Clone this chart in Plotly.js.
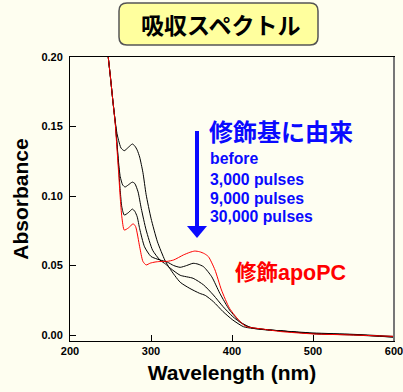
<!DOCTYPE html>
<html>
<head>
<meta charset="utf-8">
<script src="https://cdn.plot.ly/plotly-3.0.1.min.js"></script>
<style>html,body{margin:0;padding:0;background:#FEFEF0;}#chart{width:403px;height:392px;}</style>
</head>
<body>
<div id="chart"></div>
<script>
// ---- data ----
const chartTitle = "吸収スペクトル";
const xTitle = "Wavelength (nm)";
const yTitle = "Absorbance";
const xTicks = [200, 300, 400, 500, 600];
const yTicks = [0.00, 0.05, 0.10, 0.15, 0.20];
const legendHeader = "修飾基に由来";
const legendLabels = ["before", "3,000 pulses", "9,000 pulses", "30,000 pulses"];
const sampleLabel = "修飾apoPC";

// before (red)
const wlBefore = [240,245,250,253,256,258,260,262,264,267,272,278,281,286,290,294,299,305,311,320,328,340,348,354,360,366,371,379,387,397,410,418,438,460,500,550,600];
const absBefore = [0.24,0.212,0.185,0.168,0.151,0.134,0.117,0.099,0.085,0.0755,0.077,0.080,0.078,0.0635,0.053,0.0504,0.0517,0.0525,0.0529,0.053,0.054,0.0576,0.0595,0.0604,0.0599,0.0585,0.0563,0.0468,0.0324,0.0192,0.0096,0.006,0.0043,0.0025,0.0008,0.0,-0.001];
// 3,000 pulses
const wl3k = [240,245,250,253,256,258,260,262,264,267,272,277,280,283,286,292,300,311,320,328,336,344,352,358,365,375,385,397,410,420,440,460,500,550,600];
const abs3k = [0.24,0.212,0.185,0.168,0.152,0.137,0.121,0.104,0.092,0.0863,0.088,0.0906,0.089,0.085,0.0765,0.0635,0.0565,0.054,0.0525,0.050,0.0487,0.050,0.0516,0.051,0.0491,0.0419,0.030,0.018,0.0096,0.006,0.004,0.003,0.001,0.0003,-0.0015];
// 9,000 pulses
const wl9k = [240,245,250,253,256,258,260,262,265,268,272,277,280,284,288,294,302,311,318,324,336,352,365,377,389,401,412,425,440,460,500,550,600];
const abs9k = [0.24,0.212,0.185,0.168,0.152,0.138,0.124,0.114,0.108,0.1065,0.108,0.110,0.109,0.103,0.091,0.0755,0.061,0.054,0.051,0.048,0.043,0.0408,0.036,0.0288,0.0204,0.0132,0.0084,0.005,0.0038,0.003,0.0015,0.0005,-0.001];
// 30,000 pulses
const wl30k = [240,245,250,253,256,258,260,263,267,272,277,280,283,286,290,294,300,308,317,323,336,348,360,367,377,389,401,414,425,435,460,500,550,600];
const abs30k = [0.24,0.212,0.185,0.168,0.153,0.145,0.140,0.1345,0.1326,0.135,0.1374,0.136,0.133,0.128,0.117,0.101,0.084,0.067,0.054,0.048,0.038,0.0335,0.030,0.0285,0.024,0.0168,0.0108,0.006,0.0048,0.0043,0.003,0.001,0.0,-0.0015];

// ---- layout helpers (pixel -> paper) ----
const W = 403, H = 392;
const M = {l: 70, r: 9, t: 57, b: 51};
const PW = W - M.l - M.r, PH = H - M.t - M.b;
const px = x => (x - M.l) / PW;
const py = y => (H - M.b - y) / PH;

function roundRect(x0, y0, x1, y1, r) {
  const X = px, Y = py;
  return `M ${X(x0 + r)} ${Y(y0)} L ${X(x1 - r)} ${Y(y0)} Q ${X(x1)} ${Y(y0)} ${X(x1)} ${Y(y0 + r)} ` +
         `L ${X(x1)} ${Y(y1 - r)} Q ${X(x1)} ${Y(y1)} ${X(x1 - r)} ${Y(y1)} ` +
         `L ${X(x0 + r)} ${Y(y1)} Q ${X(x0)} ${Y(y1)} ${X(x0)} ${Y(y1 - r)} ` +
         `L ${X(x0)} ${Y(y0 + r)} Q ${X(x0)} ${Y(y0)} ${X(x0 + r)} ${Y(y0)} Z`;
}

const fam = '"Liberation Sans", Arial, "Noto Sans CJK JP", sans-serif';
const famJP = '"Noto Sans CJK JP", "Liberation Sans", sans-serif';
const blue = '#0a0aff';
const red = '#ff0000';

function line(x, y, color) {
  return {x: x, y: y, type: 'scatter', mode: 'lines',
    line: {color: color, width: 1, shape: 'spline', smoothing: 0.6},
    hoverinfo: 'skip', showlegend: false};
}

const traces = [
  line(wl30k, abs30k, '#000000'),
  line(wl9k, abs9k, '#000000'),
  line(wl3k, abs3k, '#000000'),
  line(wlBefore, absBefore, red)
];

const annotations = [
  {xref: 'paper', yref: 'paper', x: px(220), y: py(24), text: '<b>' + chartTitle + '</b>',
   showarrow: false, xanchor: 'center', yanchor: 'middle',
   font: {family: famJP, size: 23, color: '#000'}},
  {xref: 'paper', yref: 'paper', x: px(207), y: py(130), text: '<b>' + legendHeader + '</b>',
   showarrow: false, xanchor: 'left', yanchor: 'middle',
   font: {family: famJP, size: 24, color: blue}},
  {xref: 'paper', yref: 'paper', x: px(233), y: py(273), text: '<b>' + sampleLabel + '</b>',
   showarrow: false, xanchor: 'left', yanchor: 'middle',
   font: {family: fam, size: 21.5, color: red}}
];
const labelY = [158.5, 179, 198, 216.5];
legendLabels.forEach((t, i) => annotations.push({
  xref: 'paper', yref: 'paper', x: px(208), y: py(labelY[i]), text: '<b>' + t + '</b>',
  showarrow: false, xanchor: 'left', yanchor: 'middle',
  font: {family: fam, size: 15.8, color: blue}
}));

const shapes = [
  {type: 'path', xref: 'paper', yref: 'paper', path: roundRect(119, 3, 318, 45, 8),
   fillcolor: '#FFFF9E', line: {color: '#555555', width: 1.5}, layer: 'above'},
  {type: 'line', xref: 'paper', yref: 'paper', x0: px(197), x1: px(197), y0: py(131), y1: py(228),
   line: {color: blue, width: 4}},
  {type: 'path', xref: 'paper', yref: 'paper',
   path: `M ${px(187)} ${py(226)} L ${px(207)} ${py(226)} L ${px(197)} ${py(238)} Z`,
   fillcolor: blue, line: {color: blue, width: 0}},
  {type: 'line', xref: 'paper', yref: 'paper', x0: 1, x1: 1, y0: 0, y1: 1,
   line: {color: '#777777', width: 2}}
];

const layout = {
  width: W, height: H,
  margin: M,
  paper_bgcolor: '#FEFEF0',
  plot_bgcolor: '#FEFEF2',
  showlegend: false,
  font: {family: fam, color: '#000'},
  xaxis: {
    range: [200, 600], tickvals: xTicks, ticktext: xTicks.map(String),
    ticks: 'inside', ticklen: 6, tickcolor: '#000', tickwidth: 1,
    showline: true, mirror: true, linecolor: '#000', linewidth: 1,
    showgrid: false, zeroline: false, ticklabeloverflow: 'allow',
    tickfont: {family: fam, size: 11, weight: 'bold', color: '#000'},
    title: {text: xTitle, font: {family: fam, size: 21, weight: 'bold', color: '#000'}, standoff: 9}
  },
  yaxis: {
    range: [-0.0043, 0.2], tickvals: yTicks, ticktext: yTicks.map(v => v.toFixed(2)),
    ticks: 'inside', ticklen: 6, tickcolor: '#000', tickwidth: 1,
    showline: true, mirror: true, linecolor: '#000', linewidth: 1,
    showgrid: false, zeroline: false, ticklabelstandoff: 4,
    tickfont: {family: fam, size: 11, weight: 'bold', color: '#000'},
    title: {text: yTitle, font: {family: fam, size: 21, weight: 'bold', color: '#000'}, standoff: 7}
  },
  annotations: annotations,
  shapes: shapes
};

Plotly.newPlot('chart', traces, layout, {displayModeBar: false, staticPlot: true});
</script>
</body>
</html>
